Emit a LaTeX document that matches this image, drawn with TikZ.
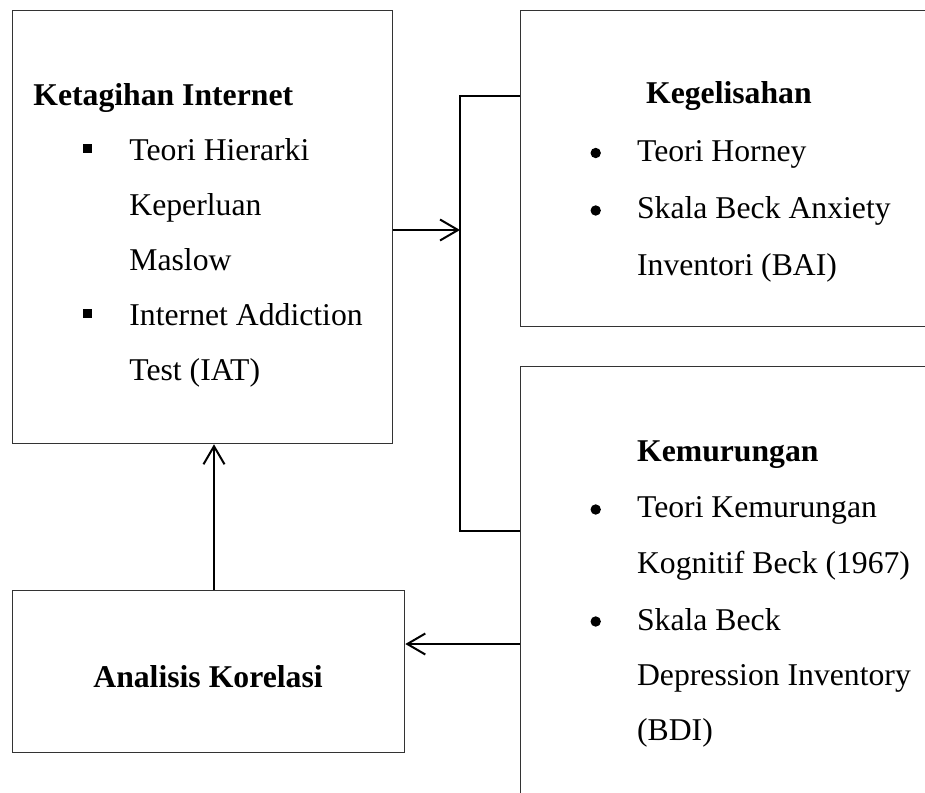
\documentclass[tikz,border=0pt]{standalone}
\usepackage{fontspec}
\setmainfont{Liberation Serif}
\usetikzlibrary{arrows.meta,calc}
\begin{document}
\begin{tikzpicture}[x=0.5pt,y=-0.5pt,
  box/.style={draw=black!80, line width=0.65pt, inner sep=0pt, anchor=north west},
  txt/.style={anchor=base west, inner sep=0pt, font=\fontsize{15.85pt}{19pt}\selectfont},
  head/.style={txt, font=\fontsize{15.85pt}{19pt}\selectfont\bfseries},
  dotb/.style={circle, fill=black, inner sep=0pt, minimum size=5.2pt},
  sqb/.style={rectangle, fill=black, inner sep=0pt, minimum size=4.2pt},
  link/.style={line width=1pt, black},
  arr/.style={link, -{Straight Barb[length=9pt,width=10.5pt,line width=1pt]}}]
\clip (0,0) rectangle (925,792);
\fill[white] (0,0) rectangle (925,792);

% boxes
\node[box, minimum width=190pt, minimum height=216.5pt] (A) at (12,10) {};
\node[box, minimum width=210pt, minimum height=158pt] (B) at (520,10) {};
\node[box, minimum width=210pt, minimum height=222pt] (C) at (520,366) {};
\node[box, minimum width=196pt, minimum height=81pt] (D) at (12,590) {};

% box A text
\node[head] (a0) at (33,105) {Ketagihan Internet};
\node[sqb] (as1) at (87.5,148.5) {};
\node[txt] (a1) at (129,160) {Teori Hierarki};
\node[txt] (a2) at (129,215) {Keperluan};
\node[txt] (a3) at (129,270) {Maslow};
\node[sqb] (as2) at (87.5,313.5) {};
\node[txt] (a4) at (129,325) {Internet Addiction};
\node[txt] (a5) at (129,380) {Test (IAT)};

% box B text
\node[head] (b0) at (645.7,104) {Kegelisahan};
\node[dotb] (bd1) at (595.7,153) {};
\node[txt] (b1) at (636.7,161.7) {Teori Horney};
\node[dotb] (bd2) at (595.7,210.5) {};
\node[txt] (b2) at (636.7,218.5) {Skala Beck Anxiety};
\node[txt] (b3) at (636.7,275) {Inventori (BAI)};

% box C text
\node[head] (c0) at (636.7,461.7) {Kemurungan};
\node[dotb] (cd1) at (595.7,509.5) {};
\node[txt] (c1) at (636.7,517.3) {Teori Kemurungan};
\node[txt] (c2) at (636.7,573) {Kognitif Beck (1967)};
\node[dotb] (cd2) at (595.7,621.5) {};
\node[txt] (c3) at (636.7,630) {Skala Beck};
\node[txt] (c4) at (636.7,685) {Depression Inventory};
\node[txt] (c5) at (636.7,740) {(BDI)};

% box D text
\node[head, anchor=base] (d0) at (208,687) {Analisis Korelasi};

% connectors
\coordinate (jt) at (460,96);
\coordinate (jb) at (460,531);
\coordinate (ha) at (0,230);
\coordinate (av) at (214,0);
\coordinate (hd) at (0,644);
\draw[link] (B.west |- jt) -- (jt) -- (jb) -- (C.west |- jb);
\draw[arr] (A.east |- ha) -- (jt |- ha);
\draw[arr] (av |- D.north) -- (av |- A.south);
\draw[arr] (C.west |- hd) -- (D.east |- hd);
\end{tikzpicture}
\end{document}
